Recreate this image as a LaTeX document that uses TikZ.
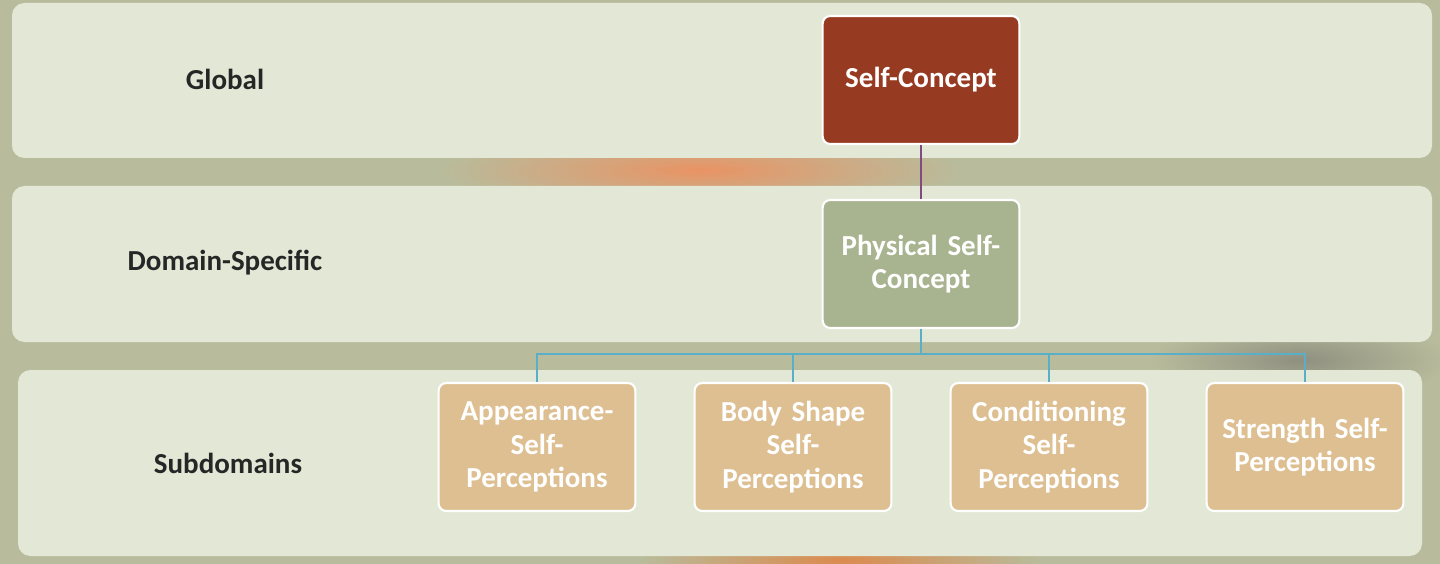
\documentclass[tikz,border=0pt]{standalone}
\usepackage{fontspec}
\setmainfont{Carlito}
\begin{document}
\begin{tikzpicture}[x=0.02cm,y=-0.02cm,
 band/.style={fill=bandc,rounded corners=0.25cm},
 box/.style={draw=white,line width=1.2pt,rounded corners=0.15cm,minimum width=3.88cm,minimum height=2.56cm,text width=3.7cm,align=center,text=white,font=\fontsize{16.5}{19}\selectfont\bfseries},
 lab/.style={font=\fontsize{16.5}{19}\selectfont\bfseries,text=black!85},
 bus/.style={draw=linec,line width=1.2pt}]
\definecolor{bandc}{HTML}{E2E8D5}
\definecolor{bgc}{HTML}{B9BC9C}
\definecolor{redc}{HTML}{963A22}
\definecolor{grc}{HTML}{A8B38F}
\definecolor{tanc}{HTML}{DDBF91}
\definecolor{linec}{HTML}{5AAFC8}
\useasboundingbox (0,0) rectangle (1440,564);
\fill[bgc] (0,0) rectangle (1440,564);
\shade[inner color=orange!60!red!70,outer color=bgc,opacity=0.7] (700,170) ellipse [x radius=260, y radius=40];
\shade[inner color=black!60,outer color=bgc,opacity=0.5] (1300,360) ellipse [x radius=150, y radius=40];
\shade[inner color=orange!70!red,outer color=bgc,opacity=0.5] (840,560) ellipse [x radius=200, y radius=30];
\fill[band] (12,3) rectangle (1432,158);
\fill[band] (12,186) rectangle (1432,342);
\fill[band] (18,370) rectangle (1422,556);
\node[lab] (g) at (225,79) {Global};
\node[lab] (d) at (225,263) {Domain-Specific};
\node[lab] (s) at (228,463) {Subdomains};
\node[box,fill=redc] (sc) at (921,80) {Self-Concept};
\node[box,fill=grc] (psc) at (921,264) {Physical Self-\\Concept};
\node[box,fill=tanc] (a) at (537,447) {Appearance-\\Self-\\Perceptions};
\node[box,fill=tanc] (b) at (793,447) {Body Shape\\Self-\\Perceptions};
\node[box,fill=tanc] (c) at (1049,447) {Conditioning\\Self-\\Perceptions};
\node[box,fill=tanc] (e) at (1305,447) {Strength Self-\\Perceptions};
\draw[draw=violet!40!gray,line width=1.2pt] (sc) -- (psc);
\coordinate (j) at (921,354);
\draw[bus] (psc.south) -- (j);
\foreach \n in {a,b,c,e} \draw[bus] (j) -| (\n.north);
\end{tikzpicture}
\end{document}
